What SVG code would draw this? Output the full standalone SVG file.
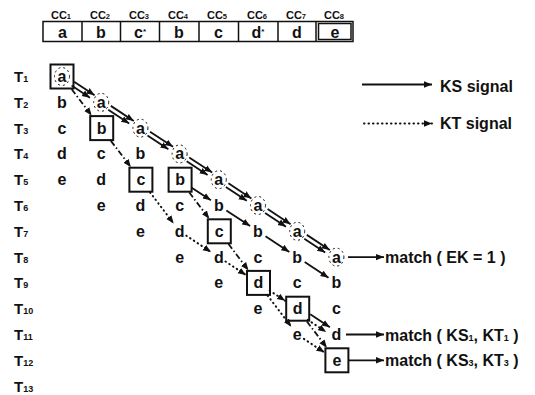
<svg xmlns="http://www.w3.org/2000/svg" width="535" height="395" viewBox="0 0 535 395">
<style>
text{font-family:"Liberation Sans",Arial,sans-serif;font-weight:bold;fill:#111}
.g{font-size:16px;text-anchor:middle}
.t{font-size:15px}
.cc{font-size:11px;text-anchor:middle}
.lbl{font-size:16px}
.sub{font-size:9px}
.box{fill:none;stroke:#111;stroke-width:2}
.cell{fill:#fff;stroke:#111;stroke-width:1.5}
.ring{fill:none;stroke:#111;stroke-width:1;stroke-dasharray:2 3}
.ks{stroke:#111;stroke-width:1.8;fill:none;marker-end:url(#ah)}
.kt{stroke:#111;stroke-width:2;fill:none;stroke-dasharray:0.5 4;stroke-linecap:round;marker-end:url(#ah)}
.dd{stroke:#111;stroke-width:1.8;fill:none;stroke-dasharray:6 2.5 1.5 2.5;marker-end:url(#ah)}
</style>
<defs>
<marker id="ah" markerUnits="userSpaceOnUse" markerWidth="9" markerHeight="8" refX="8" refY="4" orient="auto">
<path d="M0,0.8 L8,4 L0,7.2 Z" fill="#111"/>
</marker>
</defs>
<rect width="535" height="395" fill="#fff"/>

<g id="top-cells">
<rect class="cell" x="43" y="21.5" width="310" height="20"/>
<line x1="82" y1="21.5" x2="82" y2="41.5" stroke="#111" stroke-width="1.5"/>
<line x1="120.5" y1="21.5" x2="120.5" y2="41.5" stroke="#111" stroke-width="1.5"/>
<line x1="159.5" y1="21.5" x2="159.5" y2="41.5" stroke="#111" stroke-width="1.5"/>
<line x1="199" y1="21.5" x2="199" y2="41.5" stroke="#111" stroke-width="1.5"/>
<line x1="238.5" y1="21.5" x2="238.5" y2="41.5" stroke="#111" stroke-width="1.5"/>
<line x1="278" y1="21.5" x2="278" y2="41.5" stroke="#111" stroke-width="1.5"/>
<line x1="316" y1="21.5" x2="316" y2="41.5" stroke="#111" stroke-width="1.5"/>
<rect class="cell" x="318.5" y="23.5" width="32.5" height="16"/>
<text class="cc" x="61" y="19">CC<tspan font-size="7.5">1</tspan></text>
<text class="cc" x="100" y="19">CC<tspan font-size="7.5">2</tspan></text>
<text class="cc" x="139" y="19">CC<tspan font-size="7.5">3</tspan></text>
<text class="cc" x="178" y="19">CC<tspan font-size="7.5">4</tspan></text>
<text class="cc" x="217" y="19">CC<tspan font-size="7.5">5</tspan></text>
<text class="cc" x="257" y="19">CC<tspan font-size="7.5">6</tspan></text>
<text class="cc" x="296" y="19">CC<tspan font-size="7.5">7</tspan></text>
<text class="cc" x="334" y="19">CC<tspan font-size="7.5">8</tspan></text>
<text class="g" x="62.5" y="37.5">a</text>
<text class="g" x="101" y="37.5">b</text>
<text class="g" x="140" y="37.5">c<tspan font-size="8" dy="-4">*</tspan></text>
<text class="g" x="179" y="37.5">b</text>
<text class="g" x="218.5" y="37.5">c</text>
<text class="g" x="258" y="37.5">d<tspan font-size="8" dy="-4">*</tspan></text>
<text class="g" x="297" y="37.5">d</text>
<text class="g" x="335" y="37.5">e</text>
</g>

<g id="time-labels">
<text class="t" x="14" y="82">T<tspan class="sub">1</tspan></text>
<text class="t" x="14" y="107.8">T<tspan class="sub">2</tspan></text>
<text class="t" x="14" y="133.6">T<tspan class="sub">3</tspan></text>
<text class="t" x="14" y="159.4">T<tspan class="sub">4</tspan></text>
<text class="t" x="14" y="185.2">T<tspan class="sub">5</tspan></text>
<text class="t" x="14" y="211">T<tspan class="sub">6</tspan></text>
<text class="t" x="14" y="236.8">T<tspan class="sub">7</tspan></text>
<text class="t" x="14" y="262.6">T<tspan class="sub">8</tspan></text>
<text class="t" x="14" y="288.4">T<tspan class="sub">9</tspan></text>
<text class="t" x="14" y="314.2">T<tspan class="sub">10</tspan></text>
<text class="t" x="14" y="340">T<tspan class="sub">11</tspan></text>
<text class="t" x="14" y="365.8">T<tspan class="sub">12</tspan></text>
<text class="t" x="14" y="391.6">T<tspan class="sub">13</tspan></text>
</g>

<g id="col1">
<rect class="box" x="50.5" y="64.5" width="23" height="24"/>
<ellipse class="ring" cx="62" cy="76.5" rx="7.5" ry="9"/>
<text class="g" x="62" y="82">a</text>
<text class="g" x="62" y="107.8">b</text>
<text class="g" x="62" y="133.6">c</text>
<text class="g" x="62" y="159.4">d</text>
<text class="g" x="62" y="185.2">e</text>
</g>
<g id="col2">
<ellipse class="ring" cx="101.2" cy="102.3" rx="7.5" ry="9"/>
<text class="g" x="101.2" y="107.8">a</text>
<rect class="box" x="90.2" y="116.1" width="23" height="24"/>
<text class="g" x="101.7" y="133.6">b</text>
<text class="g" x="101.2" y="159.4">c</text>
<text class="g" x="101.2" y="185.2">d</text>
<text class="g" x="101.2" y="211">e</text>
</g>
<g id="col3">
<ellipse class="ring" cx="140.4" cy="128.1" rx="7.5" ry="9"/>
<text class="g" x="140.4" y="133.6">a</text>
<text class="g" x="140.4" y="159.4">b</text>
<rect class="box" x="129.4" y="167.7" width="23" height="24"/>
<text class="g" x="140.9" y="185.2">c</text>
<text class="g" x="140.4" y="211">d</text>
<text class="g" x="140.4" y="236.8">e</text>
</g>
<g id="col4">
<ellipse class="ring" cx="179.6" cy="153.9" rx="7.5" ry="9"/>
<text class="g" x="179.6" y="159.4">a</text>
<rect class="box" x="168.6" y="167.7" width="23" height="24"/>
<text class="g" x="180.1" y="185.2">b</text>
<text class="g" x="179.6" y="211">c</text>
<text class="g" x="179.6" y="236.8">d</text>
<text class="g" x="179.6" y="262.6">e</text>
</g>
<g id="col5">
<ellipse class="ring" cx="218.8" cy="179.7" rx="7.5" ry="9"/>
<text class="g" x="218.8" y="185.2">a</text>
<text class="g" x="218.8" y="211">b</text>
<rect class="box" x="207.8" y="219.3" width="23" height="24"/>
<text class="g" x="219.3" y="236.8">c</text>
<text class="g" x="218.8" y="262.6">d</text>
<text class="g" x="218.8" y="288.4">e</text>
</g>
<g id="col6">
<ellipse class="ring" cx="258" cy="205.5" rx="7.5" ry="9"/>
<text class="g" x="258" y="211">a</text>
<text class="g" x="258" y="236.8">b</text>
<text class="g" x="258" y="262.6">c</text>
<rect class="box" x="247" y="270.9" width="23" height="24"/>
<text class="g" x="258.5" y="288.4">d</text>
<text class="g" x="258" y="314.2">e</text>
</g>
<g id="col7">
<ellipse class="ring" cx="297.2" cy="231.3" rx="7.5" ry="9"/>
<text class="g" x="297.2" y="236.8">a</text>
<text class="g" x="297.2" y="262.6">b</text>
<text class="g" x="297.2" y="288.4">c</text>
<rect class="box" x="286.2" y="296.7" width="23" height="24"/>
<text class="g" x="297.7" y="314.2">d</text>
<text class="g" x="297.2" y="340">e</text>
</g>
<g id="col8">
<ellipse class="ring" cx="336.4" cy="257.1" rx="7.5" ry="9"/>
<text class="g" x="336.4" y="262.6">a</text>
<text class="g" x="336.4" y="288.4">b</text>
<text class="g" x="336.4" y="314.2">c</text>
<text class="g" x="336.4" y="340">d</text>
<rect class="box" x="325.4" y="348.3" width="23" height="24"/>
<text class="g" x="336.9" y="365.8">e</text>
</g>

<g id="legend">
<line class="ks" x1="362" y1="84.5" x2="432" y2="84.5"/>
<text class="lbl" x="440" y="92">KS signal</text>
<line class="kt" x1="364" y1="123.5" x2="432" y2="123.5"/>
<text class="lbl" x="440" y="129">KT signal</text>
</g>

<g id="outputs">
<line class="ks" x1="348" y1="257.1" x2="384" y2="257.1"/>
<text class="lbl" x="385" y="263">match ( EK = 1 )</text>
<line class="ks" x1="346" y1="334.5" x2="384" y2="334.5"/>
<text class="lbl" x="385" y="340.5">match ( KS<tspan class="sub">1</tspan>, KT<tspan class="sub">1</tspan> )</text>
<line class="ks" x1="349" y1="360.3" x2="384" y2="360.3"/>
<text class="lbl" x="385" y="366">match ( KS<tspan class="sub">3</tspan>, KT<tspan class="sub">3</tspan> )</text>
</g>

<g id="connectors">
<g transform="translate(62,76.5) rotate(33.35)"><line class="ks" x1="13" y1="-2.3" x2="37.5" y2="-2.3"/><line class="ks" x1="13" y1="2.3" x2="35" y2="2.3"/></g>
<g transform="translate(101.2,102.3) rotate(33.35)"><line class="ks" x1="10" y1="-2.3" x2="37.5" y2="-2.3"/><line class="ks" x1="10" y1="2.3" x2="35" y2="2.3"/></g>
<g transform="translate(140.4,128.1) rotate(33.35)"><line class="ks" x1="10" y1="-2.3" x2="37.5" y2="-2.3"/><line class="ks" x1="10" y1="2.3" x2="35" y2="2.3"/></g>
<g transform="translate(179.6,153.9) rotate(33.35)"><line class="ks" x1="10" y1="-2.3" x2="37.5" y2="-2.3"/><line class="ks" x1="10" y1="2.3" x2="35" y2="2.3"/></g>
<g transform="translate(218.8,179.7) rotate(33.35)"><line class="ks" x1="10" y1="-2.3" x2="37.5" y2="-2.3"/><line class="ks" x1="10" y1="2.3" x2="35" y2="2.3"/></g>
<g transform="translate(258,205.5) rotate(33.35)"><line class="ks" x1="10" y1="-2.3" x2="37.5" y2="-2.3"/><line class="ks" x1="10" y1="2.3" x2="35" y2="2.3"/></g>
<g transform="translate(297.2,231.3) rotate(33.35)"><line class="ks" x1="10" y1="-2.3" x2="37.5" y2="-2.3"/><line class="ks" x1="10" y1="2.3" x2="35" y2="2.3"/></g>

<g transform="translate(179.6,179.7) rotate(33.35)"><line class="ks" x1="14" y1="0" x2="37.5" y2="0"/></g>
<g transform="translate(218.8,205.5) rotate(33.35)"><line class="ks" x1="9" y1="0" x2="37.5" y2="0"/></g>
<g transform="translate(258,231.3) rotate(33.35)"><line class="ks" x1="9" y1="0" x2="37.5" y2="0"/></g>
<g transform="translate(297.2,257.1) rotate(33.35)"><line class="ks" x1="9" y1="0" x2="37.5" y2="0"/></g>
<g transform="translate(297.2,308.7) rotate(33.35)"><line class="ks" x1="14" y1="-2.5" x2="37.5" y2="-2.5"/><line class="kt" x1="15" y1="3.5" x2="37" y2="3.5"/></g>

<g transform="translate(179.6,231.3) rotate(33.35)"><line class="kt" x1="8" y1="0" x2="37.5" y2="0"/></g>
<g transform="translate(218.8,257.1) rotate(33.35)"><line class="kt" x1="8" y1="0" x2="32.5" y2="0"/></g>
<g transform="translate(258,282.9) rotate(33.35)"><line class="kt" x1="14" y1="0" x2="32.5" y2="0"/></g>
<g transform="translate(297.2,334.5) rotate(33.35)"><line class="kt" x1="8" y1="0" x2="32.5" y2="0"/></g>
<g transform="translate(140.4,179.7) rotate(52.78)"><line class="kt" x1="16" y1="0" x2="55" y2="0"/></g>
<g transform="translate(258,282.9) rotate(52.78)"><line class="kt" x1="16" y1="0" x2="55" y2="0"/></g>

<g transform="translate(62,76.5) rotate(52.78)"><line class="dd" x1="16" y1="0" x2="49" y2="0"/></g>
<g transform="translate(101.2,128.1) rotate(52.78)"><line class="dd" x1="16" y1="0" x2="49" y2="0"/></g>
<g transform="translate(179.6,179.7) rotate(52.78)"><line class="dd" x1="16" y1="0" x2="49" y2="0"/></g>
<g transform="translate(218.8,231.3) rotate(52.78)"><line class="dd" x1="16" y1="0" x2="49" y2="0"/></g>
<g transform="translate(297.2,308.7) rotate(52.78)"><line class="dd" x1="16" y1="0" x2="49" y2="0"/></g>
</g>
</svg>
